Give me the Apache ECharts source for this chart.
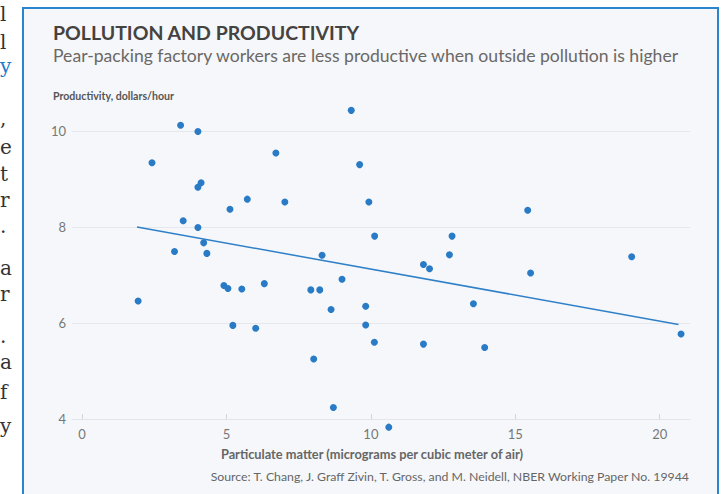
<!DOCTYPE html>
<html>
<head>
<meta charset="utf-8">
<script src="https://cdn.jsdelivr.net/npm/echarts@6/dist/echarts.min.js"></script>
<style>
html,body{margin:0;padding:0;background:#ffffff;}
#chart{width:725px;height:494px;}
</style>
</head>
<body>
<div id="chart"></div>
<script>
// Particulate matter (x) and productivity (y) for each observation
const pm = [3.41, 4.01, 2.42, 4.12, 4.01, 6.71, 9.32, 9.61, 5.72, 5.12, 7.02, 3.50, 4.01, 4.21, 3.20, 4.32, 8.31, 1.94, 4.91, 5.05, 5.53, 6.31, 7.92, 8.23, 9.00, 8.62, 5.22, 6.01, 8.02, 8.70, 9.82, 9.82, 10.12, 10.62, 11.82, 12.03, 12.72, 11.82, 13.55, 13.94, 15.53, 19.03, 20.74, 9.93, 15.43, 10.13, 12.81];
const productivity = [10.12, 9.99, 9.34, 8.92, 8.83, 9.54, 10.43, 9.30, 8.58, 8.37, 8.52, 8.13, 7.99, 7.67, 7.49, 7.45, 7.41, 6.46, 6.78, 6.72, 6.71, 6.82, 6.69, 6.69, 6.91, 6.28, 5.95, 5.89, 5.25, 4.24, 6.35, 5.96, 5.60, 3.83, 7.22, 7.13, 7.42, 5.56, 6.40, 5.49, 7.04, 7.38, 5.77, 8.52, 8.35, 7.81, 7.81];
// Fitted trend line end points
const trendX = [1.9, 20.65];
const trendY = [8.0, 5.97];
// Tick labels
const xTicks = [0, 5, 10, 15, 20];
const yTicks = [4, 6, 8, 10];
// Cropped article text at far left (line endings)
const sideChars = ['l', 'l', 'y', ',', 'e', 't', 'r', '.', 'a', 'r', '.', 'a', 'f', 'y'];

const points = pm.map((x, i) => [x, productivity[i]]);
const trend = trendX.map((x, i) => [x, trendY[i]]);

const FONT = 'Lato, "Source Sans Pro", "Noto Sans", sans-serif';
const sideY = [14, 42, 66, 118, 147, 174, 200, 226, 268, 294, 336, 362, 392, 426];
const sideGraphics = sideChars.map((c, i) => ({
  type: 'text', x: 0, y: sideY[i],
  style: {
    text: c, fill: (i === 2 ? '#1a7bc9' : '#333333'),
    font: '20px "DejaVu Serif", "Liberation Serif", serif',
    textAlign: 'left', textVerticalAlign: 'middle'
  }
}));

const chart = echarts.init(document.getElementById('chart'), null, {renderer: 'svg'});
chart.setOption({
  backgroundColor: '#ffffff',
  animation: false,
  grid: {left: 72, right: 35, top: 131, bottom: 75, containLabel: false},
  xAxis: {
    type: 'value', min: -0.35, max: 21.05,
    axisLine: {show: true, lineStyle: {color: '#e3e5ea', width: 1}},
    axisTick: {show: true, inside: true, length: 5, customValues: xTicks, lineStyle: {color: '#d3d5da'}},
    axisLabel: {customValues: xTicks, color: '#777777', fontSize: 13, fontFamily: FONT, margin: 8},
    splitLine: {show: false}
  },
  yAxis: {
    type: 'value', min: 4, max: 10, interval: 2,
    axisLine: {show: false}, axisTick: {show: false},
    axisLabel: {color: '#777777', fontSize: 13, fontFamily: FONT, margin: 6},
    splitLine: {show: true, lineStyle: {color: '#e6e8ed', width: 1}}
  },
  graphic: [
    {type: 'rect', shape: {x: 23, y: 8, width: 695, height: 500},
     style: {fill: '#f5f7fb', stroke: '#2a84d0', lineWidth: 2}, z: -10, silent: true},
    {type: 'text', x: 53, y: 32, style: {text: 'POLLUTION AND PRODUCTIVITY', fill: '#45433f',
      font: 'bold 19.5px ' + FONT, textVerticalAlign: 'middle'}},
    {type: 'text', x: 53, y: 55, style: {text: 'Pear-packing factory workers are less productive when outside pollution is higher',
      fill: '#6b6865', font: '17.6px ' + FONT, textVerticalAlign: 'middle'}},
    {type: 'text', x: 53, y: 96, style: {text: 'Productivity, dollars/hour', fill: '#555555',
      font: 'bold 10.6px ' + FONT, textVerticalAlign: 'middle'}},
    {type: 'text', x: 372, y: 454, style: {text: 'Particulate matter (micrograms per cubic meter of air)',
      fill: '#666666', font: 'bold 12.8px ' + FONT, textAlign: 'center', textVerticalAlign: 'middle'}},
    {type: 'text', x: 689, y: 476, style: {text: 'Source: T. Chang, J. Graff Zivin, T. Gross, and M. Neidell, NBER Working Paper No. 19944',
      fill: '#666666', font: '12.3px ' + FONT, textAlign: 'right', textVerticalAlign: 'middle'}}
  ].concat(sideGraphics),
  series: [
    {type: 'scatter', data: points, symbolSize: 7, clip: false,
     itemStyle: {color: '#2a7bc6', opacity: 1}, z: 3},
    {type: 'line', data: trend, showSymbol: false, clip: false,
     lineStyle: {color: '#2f80c8', width: 1.5}, z: 2}
  ]
});
</script>
</body>
</html>
